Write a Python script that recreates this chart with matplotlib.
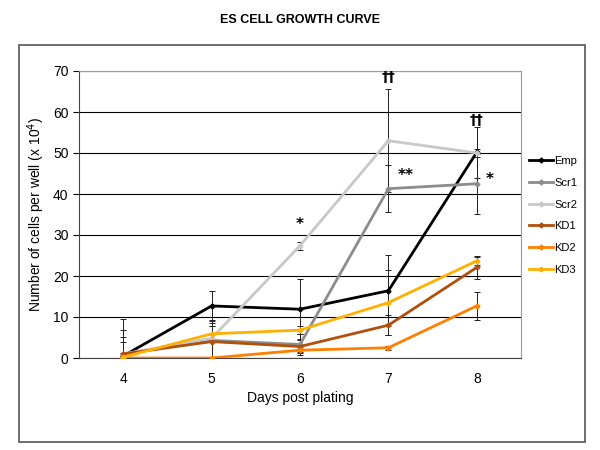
import matplotlib.pyplot as plt
from matplotlib.patches import Rectangle

plt.rcParams["font.family"] = ["Liberation Sans", "DejaVu Sans"]

days = [4, 5, 6, 7, 8]
labels = ["Emp", "Scr1", "Scr2", "KD1", "KD2", "KD3"]
colors = ["#000000", "#8c8c8c", "#c8c8c8", "#b0500c", "#ff7f00", "#ffb000"]

emp = [0.5, 12.7, 11.9, 16.4, 50.2]
scr1 = [1.0, 4.3, 3.3, 41.3, 42.5]
scr2 = [1.0, 4.8, 27.4, 53.0, 50.0]
kd1 = [1.0, 4.0, 2.8, 8.0, 22.1]
kd2 = [0.0, 0.0, 1.9, 2.5, 12.7]
kd3 = [0.2, 5.9, 6.8, 13.5, 23.7]

emp_err = [9.0, 3.7, 7.3, 8.7, 6.2]
scr1_err = [5.8, 4.3, 2.5, 5.7, 7.3]
scr2_err = [4.1, 4.5, 1.0, 12.6, 1.0]
kd1_err = [2.9, 3.7, 1.5, 2.5, 2.9]
kd2_err = [0.5, 0.0, 0.4, 0.5, 3.5]
kd3_err = [1.0, 2.0, 1.0, 8.0, 1.0]

series = [emp, scr1, scr2, kd1, kd2, kd3]
errors = [emp_err, scr1_err, scr2_err, kd1_err, kd2_err, kd3_err]

# significance marks (day, height, text)
marks = [(6, 32.5, "*"), (7, 68.5, "††"), (7.2, 44.5, "**"),
         (8, 58.0, "††"), (8.15, 43.5, "*")]

fig = plt.figure(figsize=(6, 4.5), dpi=100)
fig.patches.append(Rectangle((19 / 600, 8 / 450), 566 / 600, 397 / 450,
                             transform=fig.transFigure, fill=False,
                             edgecolor="#555555", linewidth=1.2))
ax = fig.add_axes([79 / 600, 92 / 450, 442 / 600, 287 / 450])

x = list(range(len(days)))
for vals, errs in zip(series, errors):
    ax.errorbar(x, vals, yerr=errs, fmt="none", ecolor="#222222",
                elinewidth=0.7, capsize=2, capthick=0.7, zorder=2)
for vals, lab, col in zip(series, labels, colors):
    ax.plot(x, vals, color=col, linewidth=2.0, marker="D", markersize=2.5,
            label=lab, zorder=3)

for d, h, t in marks:
    xi = days.index(int(d)) + (d - int(d))
    size = 11 if t.startswith("*") else 10
    ax.text(xi, h, t, ha="center", va="center", fontsize=size,
            fontweight="bold", family=["DejaVu Sans"])

ax.set_xlim(-0.5, 4.5)
ax.set_ylim(0, 70)
ax.set_yticks(range(0, 71, 10))
ax.set_xticks(x)
ax.set_xticklabels([str(d) for d in days])
ax.tick_params(axis="x", length=0, labelsize=10, pad=10)
ax.tick_params(axis="y", length=4, width=0.8, labelsize=10, direction="out")
ax.grid(axis="y", color="black", linewidth=0.8)
ax.set_axisbelow(True)
for s in ["top", "right"]:
    ax.spines[s].set_color("#999999")
ax.spines["left"].set_color("#444444")
ax.spines["bottom"].set_color("#444444")

ax.set_xlabel("Days post plating", fontsize=10)
ax.set_ylabel("Number of cells per well (x 10$^4$)", fontsize=10)
fig.text(0.5, 0.955, "ES CELL GROWTH CURVE", ha="center", va="center",
         fontsize=9, fontweight="bold")

ax.legend(loc="upper left", bbox_to_anchor=(1.0, 0.73), frameon=False,
          fontsize=8, handlelength=2.2, handletextpad=0.1, labelspacing=1.05,
          borderaxespad=0.3)

fig.savefig("out.png", dpi=100)
